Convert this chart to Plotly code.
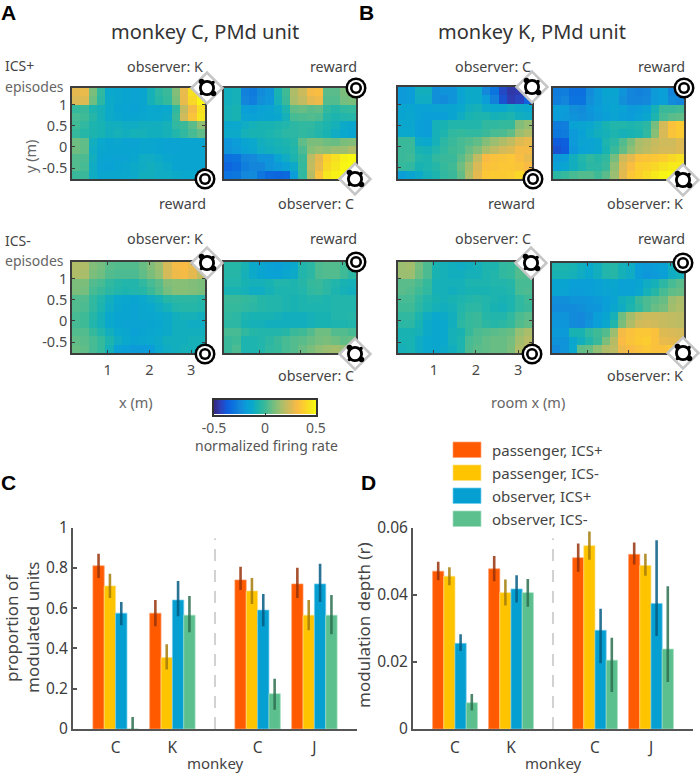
import numpy as np
import plotly.graph_objects as go

W, H = 700, 775
FONT = "Noto Sans"
TXT = "#4a4a4a"

# ---------- heatmap data (normalized firing rate, in hundredths; top row first) ----------
map_a_plus_k = [
 [27,28,9,-3,-13,-14,-15,-16,-15,-9,-4,-1,10,28,42,50],
 [25,26,7,-4,-12,-14,-15,-16,-15,-9,-5,-2,9,28,40,48],
 [-2,-1,-7,-9,-12,-15,-16,-17,-15,-13,-14,-13,-3,20,30,42],
 [1,0,-5,-9,-12,-14,-15,-15,-14,-13,-13,-12,-1,23,34,44],
 [0,-3,-7,-8,-10,-10,-11,-11,-10,-10,-10,-9,-3,-1,4,12],
 [-2,-5,-7,-8,-10,-9,-10,-9,-9,-10,-10,-9,-6,-3,1,5],
 [7,5,-10,-13,-15,-14,-16,-16,-14,-14,-15,-16,-16,-15,-15,-15],
 [7,5,-11,-14,-15,-15,-15,-15,-14,-14,-15,-16,-16,-15,-15,-15],
 [3,2,-10,-15,-16,-16,-16,-14,-11,-11,-12,-14,-15,-15,-15,-15],
 [3,1,-11,-16,-17,-15,-14,-12,-11,-10,-11,-12,-15,-15,-15,-15],
 [-1,-1,-11,-14,-14,-14,-13,-12,-10,-10,-11,-11,-12,-13,-13,-12],
]
map_a_plus_c = [
 [-10,-9,-27,-29,-24,-22,-8,0,17,22,30,32,4,4,9,10],
 [-10,-9,-26,-28,-23,-21,-9,-1,16,20,27,29,3,3,8,9],
 [-9,-8,-18,-19,-17,-16,-12,-7,5,6,4,5,-3,-5,-3,-2],
 [-9,-8,-16,-17,-16,-15,-14,-9,1,2,3,2,-5,-7,-6,-5],
 [-13,-13,-11,-9,-8,-8,-7,-6,-4,-3,-3,-5,-7,-9,-12,-14],
 [-12,-12,-9,-8,-8,-7,-6,-4,-4,-3,-4,-6,-8,-11,-13,-15],
 [-21,-19,-15,-13,-10,-9,-8,-7,-5,5,9,9,7,6,9,10],
 [-22,-20,-17,-14,-11,-10,-9,-8,-6,2,11,13,12,14,14,17],
 [-32,-31,-26,-25,-22,-22,-15,-11,-7,-1,19,27,38,42,47,49],
 [-35,-33,-28,-26,-26,-22,-20,-17,-12,-2,20,28,40,44,48,50],
 [-31,-30,-25,-24,-30,-34,-35,-34,-19,-3,18,33,44,47,50,50],
]
map_b_plus_c = [
 [-20,-19,-10,-10,-23,-22,-22,-15,-12,-12,-25,-31,-42,-46,-45,-40],
 [-20,-19,-11,-11,-23,-24,-22,-16,-12,-12,-19,-27,-40,-45,-43,-36],
 [-15,-15,-17,-17,-16,-16,-15,-13,-10,-9,-12,-13,-13,-11,-12,-13],
 [-15,-14,-17,-18,-18,-18,-15,-11,-8,-7,-7,-9,-8,-7,-10,-11],
 [-14,-14,-18,-19,-9,-8,-6,-6,-6,-6,-3,-3,-2,-2,10,13],
 [-13,-13,-18,-19,-9,-7,-3,-2,-3,-3,-1,1,2,5,14,17],
 [-1,-1,-12,-13,-9,-4,-1,1,3,5,10,14,17,20,26,28],
 [-1,-1,-8,-9,-6,-3,0,1,6,10,16,20,24,26,30,30],
 [-1,0,-6,-7,-3,-1,-1,4,10,20,31,33,34,35,32,28],
 [-2,-3,-8,-7,-5,-2,0,7,15,25,33,34,35,35,34,31],
 [-18,-15,-12,-9,-7,-3,-1,5,17,27,35,36,36,37,40,32],
]
map_b_plus_k = [
 [-29,-28,-32,-32,-24,-20,-15,-15,-22,-26,-27,-26,-20,-18,-26,-28],
 [-28,-26,-31,-31,-23,-20,-16,-16,-23,-26,-26,-25,-20,-18,-24,-26],
 [-18,-19,-23,-24,-21,-19,-17,-15,-17,-20,-19,-17,-9,-1,-1,0],
 [-19,-20,-22,-23,-22,-20,-18,-16,-18,-19,-17,-14,-7,1,4,5],
 [-29,-28,-17,-15,-14,-11,-8,-6,-6,-7,-6,-4,8,24,33,36],
 [-30,-29,-20,-17,-12,-10,-9,-7,-9,-8,-7,-3,11,25,34,36],
 [-38,-37,-20,-16,-16,-14,-7,-4,3,9,16,18,21,23,23,26],
 [-40,-38,-21,-17,-16,-14,-8,-1,5,12,17,19,22,24,24,26],
 [-20,-19,-10,-6,-3,-5,-3,8,23,27,33,34,35,37,40,42],
 [-17,-15,-10,-7,-4,-4,-1,12,26,32,37,38,40,43,45,45],
 [-4,-2,1,3,3,0,4,14,27,35,38,41,45,48,50,50],
]
map_a_minus_k = [
 [17,17,10,8,4,3,3,3,6,10,14,24,30,31,28,20],
 [17,16,9,7,3,2,2,2,5,9,13,24,29,30,27,20],
 [9,9,3,1,-3,-5,-6,-6,-3,1,4,10,11,11,10,9],
 [9,8,1,-1,-4,-6,-7,-6,-5,-1,3,8,11,11,10,9],
 [3,3,-3,-6,-10,-13,-14,-15,-13,-11,-9,-5,-4,-4,-4,-5],
 [3,2,-3,-7,-11,-14,-15,-16,-14,-13,-11,-9,-6,-5,-5,-6],
 [1,0,-5,-9,-13,-15,-15,-16,-14,-14,-13,-12,-10,-9,-9,-10],
 [1,0,-6,-9,-13,-15,-16,-16,-16,-15,-14,-12,-10,-10,-11,-11],
 [3,3,-2,-6,-10,-13,-14,-17,-15,-14,-13,-12,-10,-10,-10,-10],
 [5,4,1,-2,-7,-11,-13,-15,-14,-13,-12,-10,-10,-10,-9,-9],
 [6,5,1,-2,-9,-17,-18,-20,-20,-19,-13,-11,-10,-9,-9,-9],
]
map_a_minus_c = [
 [-5,-5,-8,-12,-15,-17,-18,-16,-13,-6,-4,2,3,3,0,-4],
 [-5,-5,-9,-12,-15,-17,-17,-14,-12,-6,-4,2,3,3,0,-4],
 [-6,-6,-8,-9,-9,-8,-6,-6,-7,-5,-2,-1,-4,-6,-8,-9],
 [-8,-8,-9,-11,-11,-9,-7,-7,-7,-6,-3,-2,-4,-7,-9,-10],
 [-1,-1,-2,-3,-5,-6,-6,-7,-8,-7,-6,-6,-7,-6,-6,-6],
 [-2,-2,-3,-4,-5,-6,-6,-7,-8,-7,-7,-7,-7,-6,-6,-6],
 [-3,-4,-7,-8,-8,-8,-9,-10,-10,-10,-9,-8,-8,-6,-6,-5],
 [-4,-4,-8,-9,-9,-10,-10,-10,-10,-10,-9,-8,-8,-7,-7,-6],
 [1,1,-3,-5,-6,-6,-6,-5,-1,0,3,7,7,3,3,1],
 [-1,0,-7,-7,-6,-4,-1,1,3,4,6,8,9,7,5,6],
 [-1,2,-7,-7,-6,-3,-2,1,3,6,9,12,14,15,13,12],
]
map_b_minus_c = [
 [14,15,8,2,-8,-9,-10,-11,-10,-9,-7,-7,-3,-2,2,1],
 [14,14,7,2,-8,-9,-10,-10,-9,-9,-7,-6,-3,-2,3,3],
 [4,4,2,-2,-9,-9,-9,-9,-7,-7,-7,-6,-6,-5,1,1],
 [4,3,0,-3,-9,-9,-10,-9,-8,-8,-8,-7,-7,-6,1,2],
 [1,1,-3,-6,-8,-9,-8,-7,-6,-5,-6,-7,-8,-7,-3,0],
 [0,0,-4,-7,-9,-10,-9,-6,-4,-4,-6,-8,-9,-7,-3,-1],
 [-3,-3,-7,-11,-13,-12,-10,-5,-2,-1,-5,-6,-6,-3,2,4],
 [-4,-4,-8,-12,-14,-13,-10,-4,-2,-1,-4,-5,-4,-2,3,5],
 [-8,-8,-9,-12,-14,-13,-9,-8,-2,2,3,4,5,6,13,16],
 [-8,-8,-11,-13,-14,-13,-9,-7,1,3,5,6,6,8,15,18],
 [-9,-8,-11,-13,-14,-12,-10,-7,2,4,5,6,6,9,17,20],
]
map_b_minus_k = [
 [-7,-7,-8,-10,-13,-10,-6,-5,-9,-11,-19,-20,-19,-17,-10,-8],
 [-8,-8,-9,-11,-13,-10,-6,-5,-9,-11,-19,-21,-20,-18,-11,-9],
 [-15,-15,-18,-18,-18,-17,-15,-14,-17,-17,-15,-11,-9,-4,1,4],
 [-15,-16,-19,-19,-18,-17,-16,-15,-17,-17,-14,-9,-5,1,5,6],
 [-23,-23,-22,-22,-21,-20,-18,-16,-10,-8,-1,2,4,6,14,16],
 [-24,-24,-24,-23,-22,-21,-18,-14,-11,-7,-3,2,6,8,15,17],
 [-22,-22,-24,-25,-23,-18,-15,-9,7,15,20,22,22,21,20,19],
 [-21,-21,-24,-25,-22,-18,-14,-6,9,17,23,24,23,21,20,19],
 [-20,-20,-8,-8,-3,0,3,14,30,33,35,35,33,26,25,24],
 [-22,-22,-14,-10,-6,-1,9,18,31,34,36,37,33,28,27,26],
 [-24,-22,-13,5,6,12,17,19,29,31,33,35,33,33,36,36],
]

# ---------- bar data ----------
group_pos = [1, 2, 3.5, 4.5]
group_labels = ["C", "K", "C", "J"]
series_names = ["passenger, ICS+", "passenger, ICS-", "observer, ICS+", "observer, ICS-"]
series_colors = ["#ff5a00", "#ffc400", "#069fd2", "#5cbf8e"]
series_edges = ["#ffa070", "#ffe080", "#70cdeb", "#a5dfc0"]
series_errcol = ["rgba(150,50,10,0.85)", "rgba(165,125,10,0.85)", "rgba(5,90,130,0.85)", "rgba(45,110,80,0.85)"]

c_vals = [[.81,.575,.74,.72], [.71,.355,.685,.565], [.575,.64,.59,.72], [0,.565,.175,.565]]
c_high = [[.87,.64,.805,.80], [.77,.42,.75,.64], [.63,.735,.67,.82], [.06,.66,.25,.665]]
c_low  = [[.75,.51,.69,.65], [.65,.295,.62,.49], [.515,.56,.51,.63], [0,.48,.095,.47]]

d_vals = [[.047,.0477,.051,.052], [.0455,.0406,.0546,.0487], [.0255,.0417,.0294,.0374], [.0078,.0406,.0205,.0238]]
d_high = [[.0498,.0515,.0552,.0555], [.0482,.0445,.0588,.0522], [.0282,.0458,.0358,.0562], [.0104,.0447,.0272,.0425]]
d_low  = [[.0443,.0440,.0468,.0490], [.0428,.0368,.0504,.0456], [.0232,.0377,.0196,.0277], [.0055,.0364,.0110,.0140]]

parula = [[0,"#352a87"],[.06,"#2e3fb8"],[.12,"#0f5cdd"],[.19,"#0b74de"],[.25,"#1488da"],
          [.31,"#0a9dd8"],[.375,"#0aa9cb"],[.42,"#18b2b2"],[.46,"#2bb7a3"],[.5,"#3fba97"],[.56,"#68bd84"],
          [.625,"#92bf73"],[.69,"#bcbc64"],[.75,"#d9ba56"],[.81,"#f9bb44"],[.875,"#fcce2e"],
          [.94,"#f5e61d"],[1,"#f9fb0e"]]

XR = [0.15, 3.33]
YR = [-0.76, 1.40]
xc = np.linspace(XR[0], XR[1], 33)[1::2]
yc = np.linspace(YR[1], YR[0], 23)[1::2]
bar_scale = np.linspace(-0.5, 0.5, 64)


def px(x):
    return x / W


def py(y):
    return 1 - y / H


fig = go.Figure()
annots, shapes = [], []


def text(x, y, s, size=14, color=TXT, anchor="center", angle=0, bold=False, family=FONT):
    annots.append(dict(x=px(x), y=py(y), xref="paper", yref="paper", text=f"<b>{s}</b>" if bold else s,
                       showarrow=False, xanchor=anchor, yanchor="middle", textangle=angle,
                       font=dict(size=size, color=color, family=family)))


def circle(cx, cy, r, fill, line=None, lw=0):
    shapes.append(dict(type="circle", xref="paper", yref="paper", x0=px(cx - r), x1=px(cx + r),
                       y0=py(cy - r), y1=py(cy + r), fillcolor=fill,
                       line=dict(color=line or fill, width=lw)))


def reward(cx, cy):
    circle(cx, cy, 10.5, "#000000")
    circle(cx, cy, 8, "#ffffff")
    circle(cx, cy, 6, "#000000")
    circle(cx, cy, 3.4, "#ffffff")


def observer(cx, cy):
    d = 15.5
    shapes.append(dict(type="path", xref="paper", yref="paper",
                       path=f"M {px(cx-d)} {py(cy)} L {px(cx)} {py(cy-d)} L {px(cx+d)} {py(cy)} L {px(cx)} {py(cy+d)} Z",
                       fillcolor="#ffffff", line=dict(color="#c6c6c6", width=2.5)))
    for sx, sy, r in [(-5.5, -6.5, 2.8), (6.5, 5.5, 2.8), (-5.5, 5.5, 1.8), (6, -5.5, 1.8)]:
        circle(cx + sx, cy + sy, r, "#000000")
    circle(cx, cy, 8, "#000000")
    circle(cx, cy, 5.2, "#ffffff")


panels = [
    (map_a_plus_k, 72, 205, 88, 179, True, False, True),
    (map_a_plus_c, 224, 356, 88, 179, False, False, False),
    (map_b_plus_c, 398, 532, 87, 179, False, False, True),
    (map_b_plus_k, 553, 684, 88, 179, False, False, False),
    (map_a_minus_k, 72, 205, 262, 353, True, True, True),
    (map_a_minus_c, 224, 356, 262, 353, False, False, False),
    (map_b_minus_c, 398, 532, 262, 353, False, True, True),
    (map_b_minus_k, 552, 684, 263, 353, False, False, False),
]

layout_axes = {}
for i, (grid, x0, x1, y0, y1, ylab, xlab, yticks) in enumerate(panels, start=1):
    sfx = "" if i == 1 else str(i)
    z = np.array(grid) / 100.0
    fig.add_trace(go.Heatmap(z=z, x=xc, y=yc, coloraxis="coloraxis", xaxis=f"x{sfx}", yaxis=f"y{sfx}",
                             zsmooth=False, hoverinfo="skip"))
    bottom = i > 4
    layout_axes[f"xaxis{sfx}"] = dict(
        domain=[px(x0), px(x1)], range=XR, anchor=f"y{sfx}", showgrid=False, zeroline=False,
        showline=True, linecolor="#3d3d3d", linewidth=1.5, mirror="ticks" if bottom else True,
        tickvals=[1, 2, 3], ticks="inside" if bottom else "", ticklen=3, tickcolor="#3d3d3d",
        ticklabelstandoff=3, showticklabels=xlab, tickfont=dict(size=14.5, color=TXT, family=FONT))
    layout_axes[f"yaxis{sfx}"] = dict(
        domain=[py(y1), py(y0)], range=YR, anchor=f"x{sfx}", showgrid=False, zeroline=False,
        showline=True, linecolor="#3d3d3d", linewidth=1.5, mirror="ticks" if yticks else True,
        tickvals=[-0.5, 0, 0.5, 1], ticktext=["-0.5", "0", "0.5", "1"],
        ticks="inside" if yticks else "", ticklen=3, tickcolor="#3d3d3d",
        showticklabels=ylab, tickfont=dict(size=14.5, color=TXT, family=FONT))

# colour scale drawn as a thin heatmap on its own axis
fig.add_trace(go.Heatmap(z=[bar_scale], x=bar_scale, y=[0], coloraxis="coloraxis", xaxis="x11", yaxis="y11",
                         zsmooth="best", hoverinfo="skip"))
layout_axes["xaxis11"] = dict(domain=[px(214), px(316)], range=[-0.5, 0.5], anchor="y11", showgrid=False, zeroline=False,
                              showline=True, linecolor="#333333", linewidth=1.5, mirror=True,
                              tickvals=[-0.5, 0, 0.5], ticktext=["-0.5", "0", "0.5"], ticks="inside", ticklen=2,
                              tickcolor="#333333", tickfont=dict(size=14, color="#555555", family=FONT))
layout_axes["yaxis11"] = dict(domain=[py(414.5), py(400)], range=[-0.5, 0.5], anchor="x11", showgrid=False, zeroline=False,
                              showline=True, linecolor="#333333", linewidth=1.5, mirror=True, showticklabels=False, ticks="")

# bars
bar_axes = [("x9", "y9", c_vals, c_high, c_low), ("x10", "y10", d_vals, d_high, d_low)]
for xa, ya, vals, hi, lo in bar_axes:
    for s in range(4):
        fig.add_trace(go.Bar(
            x=group_pos, y=vals[s], name=series_names[s], xaxis=xa, yaxis=ya, showlegend=False,
            offsetgroup=str(s), marker=dict(color=series_colors[s], line=dict(color=series_edges[s], width=0.7)),
            error_y=dict(type="data", symmetric=False,
                         array=[h - v for h, v in zip(hi[s], vals[s])],
                         arrayminus=[v - l for v, l in zip(vals[s], lo[s])],
                         color=series_errcol[s], thickness=2.6, width=0),
            hoverinfo="skip"))

tick_font = dict(size=15.5, color="#3c3c3c", family=FONT)
for n, dom, yr, yt, ytt, ydom in [
    ("9", [px(73), px(357)], [0, 1], [0, .2, .4, .6, .8, 1], ["0", "0.2", "0.4", "0.6", "0.8", "1"], [py(729), py(527.5)]),
    ("10", [px(413), px(693)], [0, .06], [0, .02, .04, .06], ["0", "0.02", "0.04", "0.06"], [py(729), py(527.5)]),
]:
    layout_axes[f"xaxis{n}"] = dict(domain=dom, range=[0.25, 5.25], anchor=f"y{n}", showgrid=False, zeroline=False,
                                    showline=True, linecolor="#555555", linewidth=2, tickvals=group_pos,
                                    ticktext=group_labels, ticks="", ticklabelstandoff=3, tickfont=tick_font)
    layout_axes[f"yaxis{n}"] = dict(domain=ydom, range=yr, anchor=f"x{n}", showgrid=False, zeroline=False,
                                    showline=True, linecolor="#555555", linewidth=2, tickvals=yt, ticktext=ytt,
                                    ticks="inside", ticklen=4, tickwidth=2, tickcolor="#555555", tickfont=tick_font)

# dashed dividers (between the monkey pairs)
shapes.append(dict(type="line", xref="x9", yref="y9", x0=2.75, x1=2.75, y0=0, y1=.947,
                   line=dict(color="#d2d2d2", width=2, dash="12px,9px")))
shapes.append(dict(type="line", xref="x10", yref="y10", x0=2.75, x1=2.75, y0=0, y1=.0568,
                   line=dict(color="#d2d2d2", width=2, dash="12px,9px")))

# icons
for cx, cy in [(207, 88), (355, 179), (532, 87), (683, 180), (207, 263), (355, 354), (531, 263), (683, 353)]:
    observer(cx, cy)
for cx, cy in [(205, 179), (356, 88), (533, 179), (684, 88), (205, 354), (356, 262), (532, 354), (683, 263)]:
    reward(cx, cy)

# labels
LETTER = "Liberation Sans"
text(8, 12, "A", 21, "#000000", bold=True, family=LETTER)
text(367, 12, "B", 21, "#000000", bold=True, family=LETTER)
text(8, 482, "C", 21, "#000000", bold=True, family=LETTER)
text(368, 482, "D", 21, "#000000", bold=True, family=LETTER)
text(205, 32, "monkey C, PMd unit", 20, "#333333")
text(532, 32, "monkey K, PMd unit", 20, "#333333")
text(3, 65, "ICS+", 14, "#444444", "left")
text(3, 86, "episodes", 14, "#666666", "left")
text(3, 240, "ICS-", 14, "#444444", "left")
text(3, 260.5, "episodes", 14, "#666666", "left")

for x, y, s in [(205, 66, "observer: K"), (359, 66, "reward"), (533, 66, "observer: C"), (687, 66, "reward"),
                (208, 203, "reward"), (356, 203, "observer: C"), (537, 203, "reward"), (685, 203, "observer: K"),
                (205, 239, "observer: K"), (359, 239, "reward"), (533, 239, "observer: C"), (687, 239, "reward"),
                (356, 376, "observer: C"), (685, 376, "observer: K")]:
    text(x, y, s, 14.3, "#444444", "right")

text(30, 157, "y (m)", 14.5, "#666666", angle=-90)
text(136, 402, "x (m)", 14.5, "#666666")
text(528, 402, "room x (m)", 14.5, "#666666")
text(266, 445, "normalized firing rate", 14, "#555555")
text(11, 628, "proportion of", 17, "#444444", angle=-90)
text(32, 628, "modulated units", 17, "#444444", angle=-90)
text(363, 625, "modulation depth (r)", 17, "#444444", angle=-90)
text(215, 763, "monkey", 15, "#444444")
text(553, 763, "monkey", 15, "#444444")

# manual key
for k, (name, col, edge) in enumerate(zip(series_names, series_colors, series_edges)):
    y0 = 442 + k * 23
    shapes.append(dict(type="rect", xref="paper", yref="paper", x0=px(453), x1=px(481), y0=py(y0), y1=py(y0 + 15.5),
                       fillcolor=col, line=dict(color=edge, width=0.7)))
    text(490, y0 + 8, name, 15, "#444444", "left")

fig.update_layout(
    width=W, height=H, margin=dict(l=0, r=0, t=0, b=0, autoexpand=False), paper_bgcolor="white", plot_bgcolor="white",
    barmode="group", bargap=0.2, bargroupgap=0, showlegend=False,
    annotations=annots, shapes=shapes,
    coloraxis=dict(cmin=-0.5, cmax=0.5, colorscale=parula, showscale=False),
    **layout_axes)

fig.write_html("out.html", config=dict(displayModeBar=False),
               post_script="document.body.style.margin='0';document.documentElement.style.overflow='hidden';")
